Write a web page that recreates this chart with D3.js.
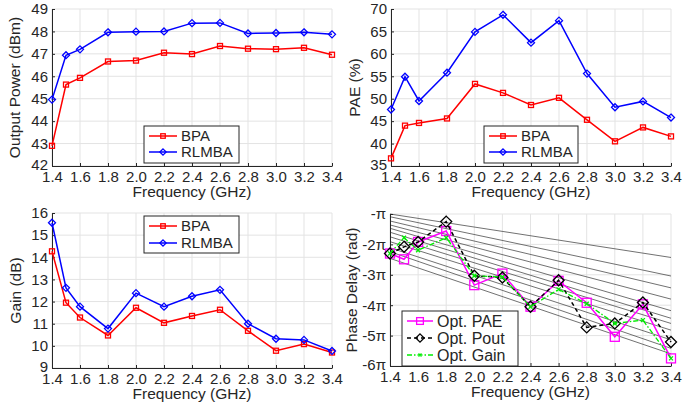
<!DOCTYPE html>
<html>
<head>
<meta charset="utf-8">
<script src="https://cdn.jsdelivr.net/npm/d3@7"></script>
<style>
  body { margin: 0; background: #fff; }
  text { font-family: "Liberation Sans", Arial, sans-serif; fill: #262626; }
</style>
</head>
<body>
<script>
const width = 693;
const height = 407;

// frequency points (GHz)
const freq = [1.4, 1.5, 1.6, 1.8, 2.0, 2.2, 2.4, 2.6, 2.8, 3.0, 3.2, 3.4];
const freqTicks = [1.4, 1.6, 1.8, 2.0, 2.2, 2.4, 2.6, 2.8, 3.0, 3.2, 3.4];

// output power (dBm)
const poutBPA = [42.9, 45.63, 45.93, 46.66, 46.7, 47.05, 46.99, 47.35, 47.23, 47.21, 47.27, 46.96];
const poutRLMBA = [44.96, 46.94, 47.2, 47.96, 47.99, 48.0, 48.37, 48.38, 47.91, 47.93, 47.96, 47.87];

// PAE (%)
const paeBPA = [36.7, 44.0, 44.6, 45.6, 53.3, 51.3, 48.6, 50.2, 45.3, 40.5, 43.6, 41.6];
const paeRLMBA = [47.6, 54.9, 49.5, 55.8, 64.9, 68.7, 62.5, 67.4, 55.6, 48.1, 49.4, 45.8];

// gain (dB)
const gainBPA = [14.27, 11.95, 11.28, 10.47, 11.72, 11.04, 11.35, 11.63, 10.68, 9.78, 10.08, 9.7];
const gainRLMBA = [15.56, 12.62, 11.77, 10.78, 12.38, 11.77, 12.24, 12.53, 11.0, 10.32, 10.27, 9.77];

// phase delay (units of pi rad)
const phasePAE = [-2.30, -2.49, -1.92, -1.56, -3.34, -2.96, -4.05, -3.20, -3.92, -5.04, -3.97, -5.75];
const phasePout = [-2.30, -2.08, -1.92, -1.25, -3.03, -3.09, -4.05, -3.18, -4.73, -4.60, -3.91, -5.21];
const phaseGain = [-2.30, -1.78, -2.19, -1.78, -3.03, -3.07, -4.05, -3.48, -3.95, -4.60, -4.49, -5.75];

// background reference lines in the phase plot (start at 1.4 GHz, end at 3.4 GHz, units of pi)
const refStart = [-1.0, -1.09, -1.23, -1.36, -1.47, -1.6, -1.75, -1.91, -2.11, -2.24, -2.46];
const refEnd = [-2.43, -3.04, -3.43, -3.8, -4.18, -4.43, -4.6, -4.82, -5.14, -5.42, -5.6];

const yTicksPout = [42, 43, 44, 45, 46, 47, 48, 49];
const yTicksPae = [35, 40, 45, 50, 55, 60, 65, 70];
const yTicksGain = [9, 10, 11, 12, 13, 14, 15, 16];
const yTicksPhase = [-6, -5, -4, -3, -2, -1];
const phaseTickLabels = ["-6π", "-5π", "-4π", "-3π", "-2π", "-π"];

const svg = d3.select("body").append("svg")
  .attr("width", width)
  .attr("height", height);

function square(g, x, y, s, color, sw) {
  g.append("rect")
    .attr("x", x - s / 2).attr("y", y - s / 2)
    .attr("width", s).attr("height", s)
    .attr("fill", "none").attr("stroke", color).attr("stroke-width", sw);
}

function diamond(g, x, y, s, color, sw) {
  g.append("path")
    .attr("d", `M${x},${y - s / 2}L${x + s / 2},${y}L${x},${y + s / 2}L${x - s / 2},${y}Z`)
    .attr("fill", "none").attr("stroke", color).attr("stroke-width", sw);
}

function cross(g, x, y, s, color, sw) {
  g.append("path")
    .attr("d", `M${x - s / 2},${y - s / 2}L${x + s / 2},${y + s / 2}M${x - s / 2},${y + s / 2}L${x + s / 2},${y - s / 2}`)
    .attr("fill", "none").attr("stroke", color).attr("stroke-width", sw);
}

function drawPanel(p) {
  const x = d3.scaleLinear().domain([1.4, 3.4]).range([p.left, p.right]);
  const y = d3.scaleLinear().domain(p.yDomain).range([p.bottom, p.top]);
  const g = svg.append("g");

  // grid
  g.append("g").selectAll("line").data(freqTicks).join("line")
    .attr("x1", d => x(d)).attr("x2", d => x(d))
    .attr("y1", p.top).attr("y2", p.bottom)
    .attr("stroke", "#e3e3e3").attr("stroke-width", 1);
  g.append("g").selectAll("line").data(p.yTicks).join("line")
    .attr("x1", p.left).attr("x2", p.right)
    .attr("y1", d => y(d)).attr("y2", d => y(d))
    .attr("stroke", "#e3e3e3").attr("stroke-width", 1);

  if (p.extra) p.extra(g, x, y);

  // axes
  const xAxis = d3.axisBottom(x).tickValues(freqTicks).tickFormat(d3.format(".1f"))
    .tickSizeInner(-3).tickSizeOuter(0).tickPadding(5);
  const yAxis = d3.axisLeft(y).tickValues(p.yTicks).tickSizeInner(-3).tickSizeOuter(0).tickPadding(4)
    .tickFormat(p.tickFormat || d3.format("d"));

  const gx = g.append("g").attr("transform", `translate(0,${p.bottom})`).call(xAxis);
  const gy = g.append("g").attr("transform", `translate(${p.left},0)`).call(yAxis);
  [gx, gy].forEach(a => {
    a.select(".domain").attr("stroke", "#262626").attr("stroke-width", 1);
    a.selectAll(".tick line").attr("stroke", "#262626");
    a.selectAll("text").attr("font-size", 15).attr("fill", "#262626")
      .attr("font-family", "Liberation Sans, Arial, sans-serif");
  });
  // lowest y label sits a little above the axis corner
  gy.selectAll(".tick text").filter((d, i) => i === 0).attr("dy", "0.2em");

  g.append("text")
    .attr("x", (p.left + p.right) / 2).attr("y", p.bottom + 31)
    .attr("text-anchor", "middle").attr("font-size", 15.5)
    .text("Frequency (GHz)");
  g.append("text")
    .attr("transform", `translate(${p.titleX},${(p.top + p.bottom) / 2}) rotate(-90)`)
    .attr("text-anchor", "middle").attr("font-size", 15.5)
    .text(p.yTitle);

  // series
  p.series.forEach(s => {
    const line = d3.line().x((d, i) => x(freq[i])).y(d => y(d));
    g.append("path").datum(s.values)
      .attr("d", line)
      .attr("fill", "none").attr("stroke", s.color).attr("stroke-width", s.width || 1.5)
      .attr("stroke-dasharray", s.dash || null);
    s.values.forEach((v, i) => s.marker(g, x(freq[i]), y(v), s.size, s.color, s.mw || 1.3));
  });

  // legend
  const L = p.legend;
  g.append("rect")
    .attr("x", L.x).attr("y", L.y).attr("width", L.w).attr("height", L.h)
    .attr("fill", "#fff").attr("stroke", "#262626").attr("stroke-width", 1);
  p.series.forEach((s, i) => {
    const ly = L.y + L.first + i * L.step;
    g.append("line")
      .attr("x1", L.x + 5).attr("x2", L.x + 5 + L.len)
      .attr("y1", ly).attr("y2", ly)
      .attr("stroke", s.color).attr("stroke-width", s.width || 1.5)
      .attr("stroke-dasharray", s.dash || null);
    s.marker(g, L.x + 5 + L.len / 2, ly, s.size * L.ms, s.color, s.mw || 1.3);
    g.append("text")
      .attr("x", L.x + 9 + L.len).attr("y", ly)
      .attr("dy", "0.36em").attr("font-size", L.fs)
      .text(s.name);
  });
}

// Output power
drawPanel({
  left: 52, right: 332, top: 9, bottom: 166,
  yDomain: [42, 49], yTicks: yTicksPout, yTitle: "Output Power (dBm)", titleX: 20,
  series: [
    { name: "BPA", values: poutBPA, color: "#ff0000", marker: square, size: 5 },
    { name: "RLMBA", values: poutRLMBA, color: "#0000ff", marker: diamond, size: 7 }
  ],
  legend: { x: 144, y: 126, w: 95, h: 37, first: 10, step: 16, len: 28, fs: 15, ms: 0.9 }
});

// PAE
drawPanel({
  left: 391, right: 671, top: 9, bottom: 166,
  yDomain: [35, 70], yTicks: yTicksPae, yTitle: "PAE (%)", titleX: 360,
  series: [
    { name: "BPA", values: paeBPA, color: "#ff0000", marker: square, size: 5 },
    { name: "RLMBA", values: paeRLMBA, color: "#0000ff", marker: diamond, size: 7 }
  ],
  legend: { x: 484, y: 126, w: 94, h: 37, first: 10, step: 16, len: 28, fs: 15, ms: 0.9 }
});

// Gain
drawPanel({
  left: 52, right: 332, top: 213, bottom: 368,
  yDomain: [9, 16], yTicks: yTicksGain, yTitle: "Gain (dB)", titleX: 21,
  series: [
    { name: "BPA", values: gainBPA, color: "#ff0000", marker: square, size: 5 },
    { name: "RLMBA", values: gainRLMBA, color: "#0000ff", marker: diamond, size: 7 }
  ],
  legend: { x: 144, y: 216, w: 95, h: 37, first: 10, step: 17, len: 28, fs: 15, ms: 0.9 }
});

// Phase delay
drawPanel({
  left: 390, right: 671, top: 214, bottom: 366,
  yDomain: [-6, -1], yTicks: yTicksPhase, yTitle: "Phase Delay (rad)", titleX: 357,
  tickFormat: (d, i) => phaseTickLabels[i],
  extra: (g, x, y) => {
    g.append("g").selectAll("line").data(refStart).join("line")
      .attr("x1", x(1.4)).attr("x2", x(3.4))
      .attr("y1", d => y(d)).attr("y2", (d, i) => y(refEnd[i]))
      .attr("stroke", "#4d4d4d").attr("stroke-width", 0.8);
  },
  series: [
    { name: "Opt. PAE", values: phasePAE, color: "#ff00ff", marker: square, size: 9, width: 1.5 },
    { name: "Opt. Pout", values: phasePout, color: "#000000", marker: diamond, size: 11, dash: "4,3", width: 1.5 },
    { name: "Opt. Gain", values: phaseGain, color: "#00ee00", marker: cross, size: 4, dash: "5,2,1.5,2", width: 1.3 }
  ],
  legend: { x: 402, y: 311, w: 116, h: 55, first: 10, step: 17, len: 26, fs: 16, ms: 0.75 }
});
</script>
</body>
</html>
